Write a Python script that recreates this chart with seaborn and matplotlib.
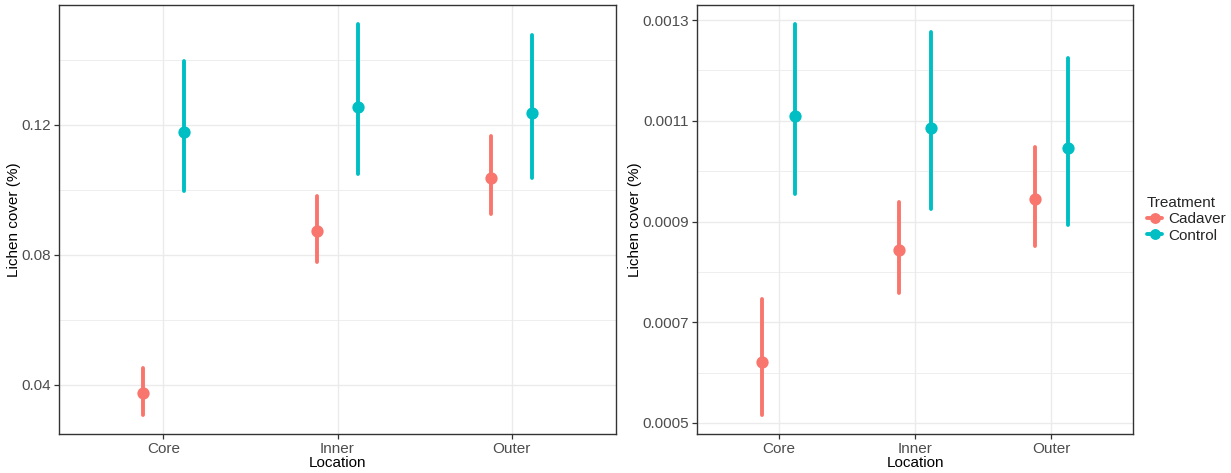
import matplotlib
matplotlib.use("Agg")
import matplotlib.pyplot as plt
from matplotlib.lines import Line2D
from matplotlib.ticker import FixedLocator
import seaborn as sns
import pandas as pd

# ---- data ----
locations = ["Core", "Inner", "Outer"]
treatments = ["Cadaver", "Control"]

left_mean_cadaver = [0.0375, 0.0874, 0.1037]
left_lo_cadaver = [0.0308, 0.0779, 0.0926]
left_hi_cadaver = [0.0452, 0.0982, 0.1166]
left_mean_control = [0.1179, 0.1255, 0.1237]
left_lo_control = [0.0997, 0.1049, 0.1037]
left_hi_control = [0.1397, 0.1511, 0.1477]

right_mean_cadaver = [0.000621, 0.000843, 0.000944]
right_lo_cadaver = [0.000515, 0.000758, 0.000851]
right_hi_cadaver = [0.000746, 0.000939, 0.001048]
right_mean_control = [0.001109, 0.001086, 0.001046]
right_lo_control = [0.000954, 0.000925, 0.000893]
right_hi_control = [0.001292, 0.001276, 0.001225]

left_ticks = [0.04, 0.08, 0.12]
left_tick_labels = ["0.04", "0.08", "0.12"]
right_ticks = [0.0005, 0.0007, 0.0009, 0.0011, 0.0013]
right_tick_labels = ["0.0005", "0.0007", "0.0009", "0.0011", "0.0013"]

palette = {"Cadaver": "#F8766D", "Control": "#00BFC4"}


def long_frame(lo_c, mid_c, hi_c, lo_k, mid_k, hi_k):
    rows = []
    for trt, lo, mid, hi in (("Cadaver", lo_c, mid_c, hi_c), ("Control", lo_k, mid_k, hi_k)):
        for i, loc in enumerate(locations):
            for v in (lo[i], mid[i], hi[i]):
                rows.append({"Location": loc, "Treatment": trt, "cover": v})
    return pd.DataFrame(rows)


df_left = long_frame(left_lo_cadaver, left_mean_cadaver, left_hi_cadaver,
                     left_lo_control, left_mean_control, left_hi_control)
df_right = long_frame(right_lo_cadaver, right_mean_cadaver, right_hi_cadaver,
                      right_lo_control, right_mean_control, right_hi_control)

sns.set_theme(style="white")
plt.rcParams["font.family"] = ["Liberation Sans", "DejaVu Sans"]

W, H = 1231, 473
FS = 11
fig = plt.figure(figsize=(W / 100, H / 100), dpi=100)
ax1 = fig.add_axes([59 / W, (H - 434) / H, (616 - 59) / W, (434 - 5) / H])
ax2 = fig.add_axes([697 / W, (H - 434) / H, (1133 - 697) / W, (434 - 5) / H])


def draw(ax, df, ylim, ticks, labels, minor):
    sns.pointplot(data=df, x="Location", y="cover", hue="Treatment",
                  order=locations, hue_order=treatments, palette=palette,
                  estimator="median", errorbar=("pi", 100), dodge=0.24,
                  linestyle="none", markers="o", markersize=6.8,
                  err_kws={"linewidth": 2.8}, legend=False, ax=ax)
    ax.set_xlim(-0.6, 2.6)
    ax.set_ylim(*ylim)
    ax.set_yticks(ticks)
    ax.set_yticklabels(labels)
    ax.yaxis.set_minor_locator(FixedLocator(minor))
    ax.set_axisbelow(True)
    ax.grid(True, which="major", color="#EBEBEB", linewidth=1.0)
    ax.grid(True, which="minor", axis="y", color="#EBEBEB", linewidth=0.6)
    for s in ax.spines.values():
        s.set_color("#333333")
        s.set_linewidth(1.0)
    ax.tick_params(axis="both", which="major", length=3.5, width=0.9,
                   color="#333333", labelsize=FS, labelcolor="#4D4D4D", pad=2,
                   bottom=True, left=True)
    ax.tick_params(axis="y", which="minor", length=0)
    ax.set_xlabel("Location", fontsize=FS, color="black", labelpad=0.5)
    ax.set_ylabel("Lichen cover (%)", fontsize=FS, color="black", labelpad=0.5)


draw(ax1, df_left, (0.02492, 0.15692), left_ticks, left_tick_labels, [0.06, 0.10, 0.14])
draw(ax2, df_right, (0.000478, 0.00133), right_ticks, right_tick_labels,
     [0.0006, 0.0008, 0.0010, 0.0012])

handles = [Line2D([0], [0], color=palette[t], marker="o", markersize=6.8,
                  linewidth=2.8) for t in treatments]
leg = fig.legend(handles, treatments, title="Treatment", loc="upper left",
                 bbox_to_anchor=(1141 / W, 1 - 190 / H), frameon=False,
                 fontsize=FS, title_fontsize=FS, handlelength=1.0,
                 handletextpad=0.4, labelspacing=0.15, borderaxespad=0)
leg._legend_box.align = "left"

fig.savefig("out.png", dpi=100)
